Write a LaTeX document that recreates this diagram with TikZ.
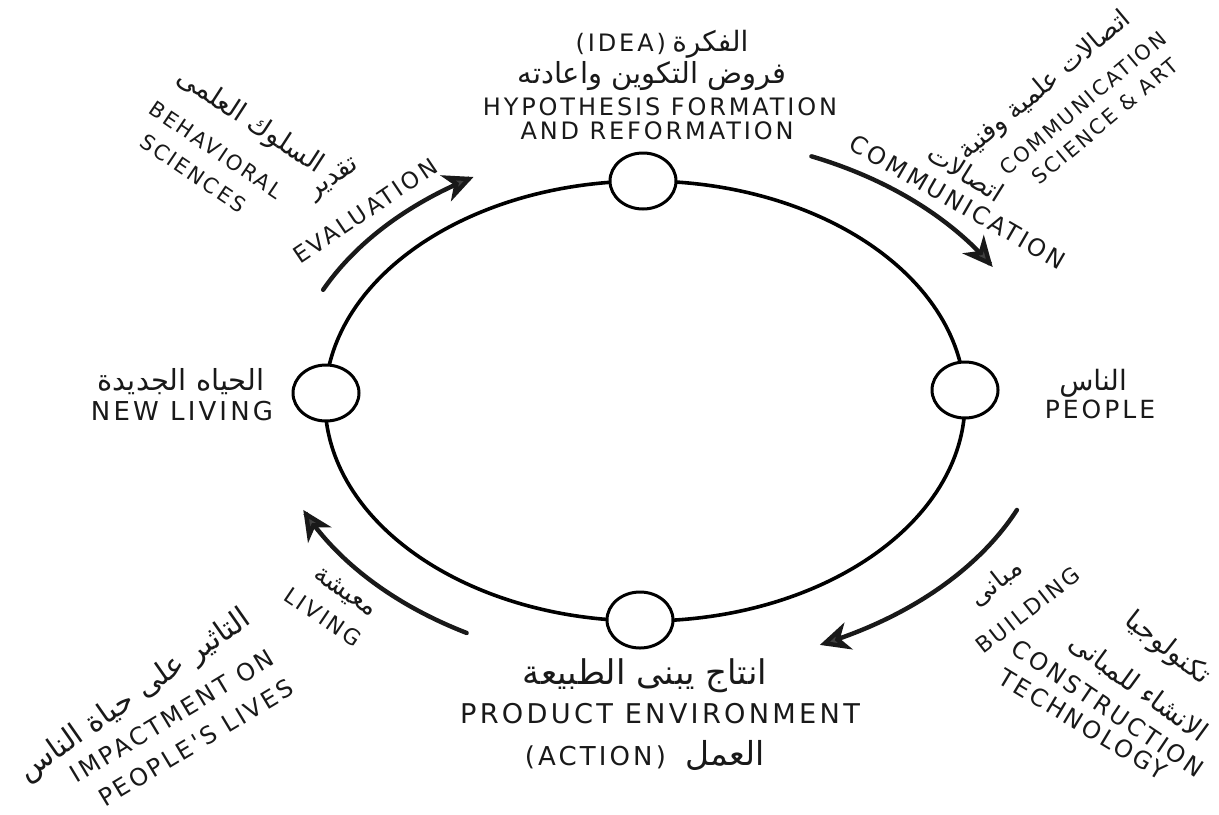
\documentclass[tikz,border=0pt]{standalone}
\usepackage{fontspec}
\setmainfont{DejaVu Sans}
\newfontfamily\arfont[Script=Arabic]{DejaVu Sans}
\newfontfamily\enfont[LetterSpace=12]{DejaVu Sans}
\TeXXeTstate=1
\usetikzlibrary{arrows.meta,shapes.geometric}
\newcommand\EN[2]{{\enfont\fontsize{#1}{#1}\selectfont #2}}
\newcommand\AR[2]{{\arfont\fontsize{#1}{#1}\selectfont #2}}
\begin{document}
\begin{tikzpicture}[x=0.5pt,y=-0.5pt,
  lbl/.style={inner sep=0pt, text=black!90},
  stn/.style={ellipse, draw, line width=1.5pt, fill=white, minimum width=33pt, minimum height=28pt, inner sep=0pt},
  cyc/.style={line width=1.8pt},
  arr/.style={line width=2.2pt, line cap=round, draw=black!90, -{Stealth[length=15pt,width=14pt,inset=4.5pt,fill=black!75]}}]
\useasboundingbox (0,0) rectangle (1219,814);
\fill[white] (0,0) rectangle (1219,814);
% main cycle
\draw[cyc] (645,401) ellipse [x radius=160pt, y radius=110pt];
\node[stn] (top) at (643,181) {};
\node[stn] (right) at (965,390) {};
\node[stn] (bottom) at (640,620) {};
\node[stn] (left) at (326,393) {};
% outer arrows
\draw[arr] plot[domain=205.7:240, samples=40, smooth, variable=\t] ({661+375*cos(\t)},{403+261*sin(\t)});
\draw[arr] plot[domain=293:329.5, samples=40, smooth, variable=\t] ({661+385*cos(\t)},{403+268*sin(\t)});
\draw[arr] plot[domain=23.8:65.9, samples=40, smooth, variable=\t] ({661+389*cos(\t)},{403+265*sin(\t)});
\draw[arr] plot[domain=119.8:156.2, samples=40, smooth, variable=\t] ({661+391*cos(\t)},{403+265*sin(\t)});
% top
\node[lbl] (t1) at (662,44) {\EN{12}{(IDEA)} \AR{14}{\beginR الفكرة\endR}};
\node[lbl] (t2) at (652,76) {\AR{14.5}{\beginR فروض التكوين واعادته\endR}};
\node[lbl] (t3) at (660,107) {\EN{12}{HYPOTHESIS FORMATION}};
\node[lbl] (t4) at (657,131) {\EN{12}{AND REFORMATION}};
% left / right
\node[lbl] (l1) at (181,382) {\AR{14.5}{\beginR الحياه الجديدة\endR}};
\node[lbl] (l2) at (182,411) {\EN{13}{NEW LIVING}};
\node[lbl] (r1) at (1093,383) {\AR{14}{\beginR الناس\endR}};
\node[lbl] (r2) at (1100,409) {\EN{12.5}{PEOPLE}};
% bottom
\node[lbl] (b1) at (645,676) {\AR{17}{\beginR انتاج يبنى الطبيعة\endR}};
\node[lbl] (b2) at (660,714) {\EN{13.6}{PRODUCT ENVIRONMENT}};
\node[lbl] (b3) at (645,755) {\EN{13}{(ACTION)}\quad\AR{16.5}{\beginR العمل\endR}};
% top left
\node[lbl,rotate=-33] (tl1) at (250,122) {\AR{13.5}{\beginR السلوك العلمى\endR}};
\node[lbl,rotate=-34] (tl2) at (216,150) {\EN{10.5}{BEHAVIORAL}};
\node[lbl,rotate=-34] (tl3) at (193,173) {\EN{10.5}{SCIENCES}};
\node[lbl,rotate=34] (tl4) at (334,180) {\AR{13}{\beginR تقدير\endR}};
\node[lbl,rotate=34] (tl5) at (365,211) {\EN{11.5}{EVALUATION}};
% top right
\node[lbl,rotate=40] (tr1) at (1045,86) {\AR{13}{\beginR اتصالات علمية وفنية\endR}};
\node[lbl,rotate=40] (tr2) at (1083,103) {\EN{10.3}{COMMUNICATION}};
\node[lbl,rotate=40] (tr3) at (1105,121) {\EN{10.3}{SCIENCE \& ART}};
\node[lbl,rotate=-32] (tr4) at (966,173) {\AR{13}{\beginR اتصالات\endR}};
\node[lbl,rotate=-30] (tr5) at (958,202) {\EN{12}{COMMUNICATION}};
% bottom right
\node[lbl,rotate=38] (br1) at (996,583) {\AR{13}{\beginR مبانى\endR}};
\node[lbl,rotate=38] (br2) at (1028,610) {\EN{11}{BUILDING}};
\node[lbl,rotate=-38] (br3) at (1167,649) {\AR{13.5}{\beginR تكنولوجيا\endR}};
\node[lbl,rotate=-36] (br4) at (1138,688) {\AR{13.5}{\beginR الانشاء للمبانى\endR}};
\node[lbl,rotate=-34] (br5) at (1108,708) {\EN{12}{CONSTRUCTION}};
\node[lbl,rotate=-31] (br6) at (1083,724) {\EN{12}{TECHNOLOGY}};
% bottom left
\node[lbl,rotate=35] (bl1) at (135,696) {\AR{15}{\beginR التاثير على حياة الناس\endR}};
\node[lbl,rotate=31] (bl2) at (172,716) {\EN{12}{IMPACTMENT ON}};
\node[lbl,rotate=31] (bl3) at (196,743) {\EN{12}{PEOPLE'S LIVES}};
\node[lbl,rotate=-34] (bl4) at (345,593) {\AR{13}{\beginR معيشة\endR}};
\node[lbl,rotate=-34] (bl5) at (323,617) {\EN{11}{LIVING}};
\end{tikzpicture}
\end{document}
